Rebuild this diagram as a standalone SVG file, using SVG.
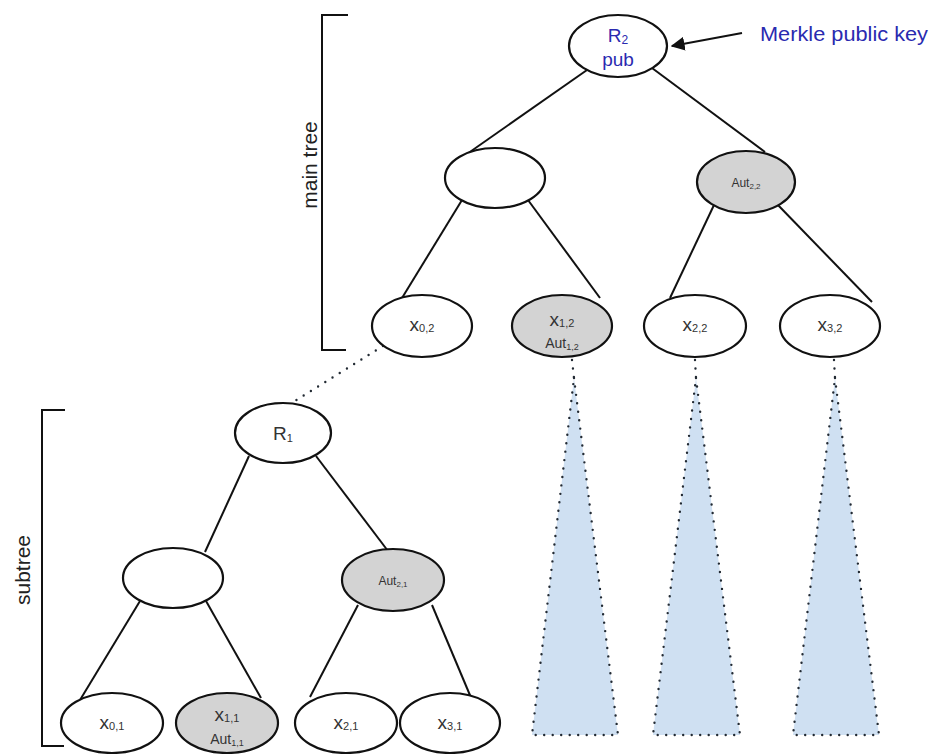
<svg xmlns="http://www.w3.org/2000/svg" width="934" height="754" viewBox="0 0 934 754">
  <style>
    .node { fill: #ffffff; stroke: #111111; stroke-width: 2.2; }
    .auth { fill: #d3d3d3; stroke: #111111; stroke-width: 2.2; }
    .edge { stroke: #111111; stroke-width: 2; fill: none; }
    .dots { stroke: #222a33; stroke-width: 2.4; stroke-dasharray: 0 8.5; stroke-linecap: round; fill: none; }
    .cone { fill: #cfe0f2; stroke: #222a33; stroke-width: 2.4; stroke-dasharray: 0 8.5; stroke-linecap: round; }
    .lbl { font-family: "Liberation Sans", Arial, sans-serif; fill: #333333; text-anchor: middle; }
    .blue { font-family: "Liberation Sans", Arial, sans-serif; fill: #2a2ab0; }
    .side { font-family: "Liberation Sans", Arial, sans-serif; fill: #222222; font-size: 21px; text-anchor: middle; }
    .bracket { stroke: #111111; stroke-width: 2; fill: none; }
  </style>
  <defs>
    <marker id="arrow" viewBox="0 0 10 10" refX="9" refY="5" markerWidth="7" markerHeight="7" orient="auto">
      <path d="M0,0 L10,5 L0,10 z" fill="#111111"/>
    </marker>
  </defs>

  <rect width="934" height="754" fill="#ffffff"/>

  <!-- brackets and side labels -->
  <g id="main-bracket">
    <path class="bracket" d="M348,15 H322 V350 H346"/>
    <text class="side" transform="translate(317,165) rotate(-90)">main tree</text>
  </g>
  <g id="sub-bracket">
    <path class="bracket" d="M65,410 H42 V746 H64"/>
    <text class="side" transform="translate(30,570) rotate(-90)">subtree</text>
  </g>

  <!-- connectors -->
  <g id="connectors">
    <line class="edge" x1="587" y1="70" x2="467" y2="154"/>
    <line class="edge" x1="652" y1="68" x2="765" y2="152"/>
    <line class="edge" x1="462" y1="200" x2="402" y2="298"/>
    <line class="edge" x1="528" y1="200" x2="600" y2="298"/>
    <line class="edge" x1="714" y1="205" x2="670" y2="298"/>
    <line class="edge" x1="776" y1="203" x2="872" y2="302"/>
    <line class="edge" x1="249" y1="456" x2="205" y2="552"/>
    <line class="edge" x1="316" y1="456" x2="388" y2="551"/>
    <line class="edge" x1="140" y1="601" x2="80" y2="700"/>
    <line class="edge" x1="206" y1="601" x2="261" y2="698"/>
    <line class="edge" x1="358" y1="605" x2="310" y2="697"/>
    <line class="edge" x1="432" y1="605" x2="472" y2="700"/>
    <line class="dots" x1="383" y1="346" x2="290" y2="404"/>
    <line class="edge" x1="742" y1="33" x2="672" y2="46" marker-end="url(#arrow)"/>
  </g>

  <!-- subtrees hanging below the other main-tree leaves -->
  <g id="cone-1">
    <line class="dots" x1="572" y1="360" x2="574" y2="378"/>
    <polygon class="cone" points="574,378 618,735 532,735"/>
  </g>
  <g id="cone-2">
    <line class="dots" x1="695" y1="360" x2="696" y2="378"/>
    <polygon class="cone" points="696,378 740,735 653,735"/>
  </g>
  <g id="cone-3">
    <line class="dots" x1="834" y1="360" x2="835" y2="378"/>
    <polygon class="cone" points="835,378 879,735 793,735"/>
  </g>

  <!-- main tree -->
  <g id="r2">
    <ellipse class="node" cx="618" cy="46" rx="49" ry="31"/>
    <text class="blue" x="618" y="42" font-size="19" text-anchor="middle">R<tspan font-size="12" dy="2">2</tspan></text>
    <text class="blue" x="618" y="66" font-size="19" text-anchor="middle">pub</text>
  </g>
  <g id="label-pubkey">
    <text class="blue" x="760" y="41" font-size="20" textLength="168" lengthAdjust="spacingAndGlyphs">Merkle public key</text>
  </g>
  <g id="n-left">
    <ellipse class="node" cx="495" cy="178" rx="50" ry="30"/>
  </g>
  <g id="aut22">
    <ellipse class="auth" cx="746" cy="182" rx="49" ry="31"/>
    <text class="lbl" x="746" y="187" font-size="12">Aut<tspan font-size="8" dy="2">2,2</tspan></text>
  </g>
  <g id="x02">
    <ellipse class="node" cx="422" cy="326" rx="50" ry="31"/>
    <text class="lbl" x="422" y="331" font-size="19">x<tspan font-size="11" dy="1">0,2</tspan></text>
  </g>
  <g id="x12">
    <ellipse class="auth" cx="562" cy="326" rx="50" ry="31"/>
    <text class="lbl" x="562" y="326" font-size="19">x<tspan font-size="11" dy="1">1,2</tspan></text>
    <text class="lbl" x="562" y="348" font-size="14">Aut<tspan font-size="9" dy="2">1,2</tspan></text>
  </g>
  <g id="x22">
    <ellipse class="node" cx="695" cy="326" rx="51" ry="31"/>
    <text class="lbl" x="695" y="331" font-size="19">x<tspan font-size="11" dy="1">2,2</tspan></text>
  </g>
  <g id="x32">
    <ellipse class="node" cx="830" cy="326" rx="50" ry="31"/>
    <text class="lbl" x="830" y="331" font-size="19">x<tspan font-size="11" dy="1">3,2</tspan></text>
  </g>

  <!-- subtree -->
  <g id="r1">
    <ellipse class="node" cx="283" cy="433" rx="48" ry="30"/>
    <text class="lbl" x="283" y="440" font-size="19">R<tspan font-size="11" dy="2">1</tspan></text>
  </g>
  <g id="s-left">
    <ellipse class="node" cx="173" cy="578" rx="50" ry="30"/>
  </g>
  <g id="aut21">
    <ellipse class="auth" cx="393" cy="580" rx="51" ry="31"/>
    <text class="lbl" x="393" y="585" font-size="12">Aut<tspan font-size="8" dy="2">2,1</tspan></text>
  </g>
  <g id="x01">
    <ellipse class="node" cx="112" cy="723" rx="51" ry="30"/>
    <text class="lbl" x="112" y="729" font-size="19">x<tspan font-size="11" dy="1">0,1</tspan></text>
  </g>
  <g id="x11">
    <ellipse class="auth" cx="227" cy="723" rx="51" ry="30"/>
    <text class="lbl" x="227" y="721" font-size="19">x<tspan font-size="11" dy="1">1,1</tspan></text>
    <text class="lbl" x="227" y="744" font-size="14">Aut<tspan font-size="9" dy="2">1,1</tspan></text>
  </g>
  <g id="x21">
    <ellipse class="node" cx="346" cy="723" rx="51" ry="30"/>
    <text class="lbl" x="346" y="729" font-size="19">x<tspan font-size="11" dy="1">2,1</tspan></text>
  </g>
  <g id="x31">
    <ellipse class="node" cx="450" cy="723" rx="50" ry="30"/>
    <text class="lbl" x="450" y="729" font-size="19">x<tspan font-size="11" dy="1">3,1</tspan></text>
  </g>
</svg>
